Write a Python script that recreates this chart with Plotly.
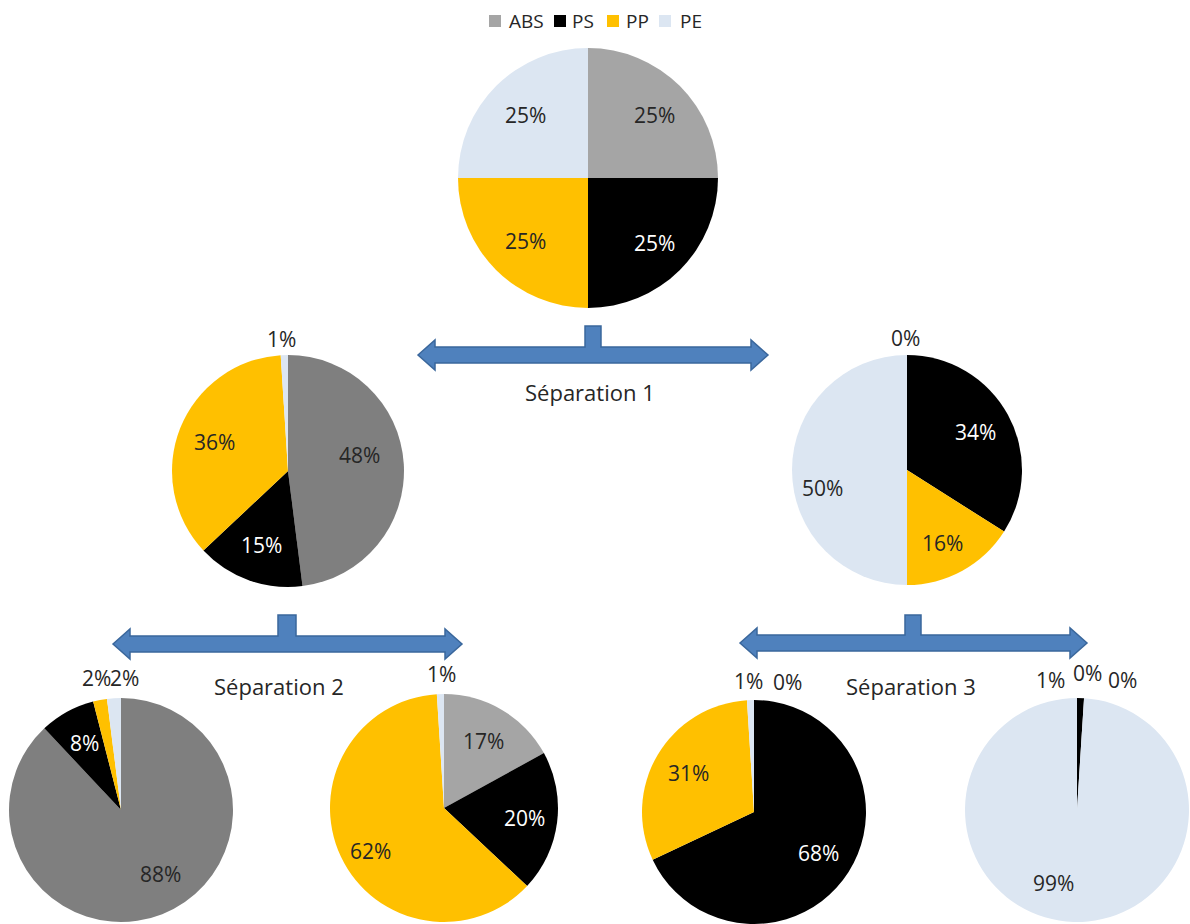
import math
import plotly.graph_objects as go

W, H = 1190, 924

# Composition (%) of each stream: ABS, PS, PP, PE
materials = ["ABS", "PS", "PP", "PE"]
feed = [25, 25, 25, 25]
sep1_left = [48, 15, 36, 1]
sep1_right = [0, 34, 16, 50]
sep2_left = [88, 8, 2, 2]
sep2_right = [17, 20, 62, 1]
sep3_left = [0, 68, 31, 1]
sep3_right = [0, 1, 0, 99]
separation_labels = ["Séparation 1", "Séparation 2", "Séparation 3"]

ABS_LIGHT = "#a5a5a5"
ABS_DARK = "#7f7f7f"
PS_COL = "#000000"
PP_COL = "#ffc000"
PE_COL = "#dce6f2"
TEXT = "#262626"
FONT = "Open Sans"


def px(x):
    return x / W


def py(y):
    return 1 - y / H


def text(x, y, s, size, color=TEXT, xanchor="center"):
    return dict(x=px(x), y=py(y), xref="paper", yref="paper",
                xanchor=xanchor, yanchor="middle", text=s, showarrow=False,
                font=dict(family=FONT, size=size, color=color))


# values, centre x, centre y, radius, ABS colour,
# small labels placed above the pie, nudges for inside labels
pies = [
    (feed, 588, 178, 130, ABS_LIGHT, {}, {0: (4, 0), 1: (4, 2)}),
    (sep1_left, 288, 471, 116, ABS_DARK, {3: (-7, -132)}, {0: (-7, -11)}),
    (sep1_right, 907, 470, 115, ABS_LIGHT, {0: (-2, -132)}, {3: (-6, 18), 2: (-2, 4)}),
    (sep2_left, 121, 810, 112, ABS_DARK, {2: (-25, -132), 3: (3, -132)}, {0: (11, -7)}),
    (sep2_right, 444, 808, 114, ABS_LIGHT, {3: (-3, -134)}, {2: (-3, 10), 1: (4, 0)}),
    (sep3_left, 754, 812, 112, ABS_LIGHT, {3: (-6, -131), 0: (33, -130)}, {}),
    (sep3_right, 1077, 810, 112, ABS_LIGHT,
     {1: (-27, -130), 0: (10, -137), 2: (45, -130)}, {3: (-21, -3)}),
]

fig = go.Figure()
annotations = []

for values, cx, cy, r, abs_col, outside, nudge in pies:
    colors = [abs_col, PS_COL, PP_COL, PE_COL]
    fig.add_trace(go.Pie(
        labels=materials,
        values=values,
        sort=False,
        direction="clockwise",
        rotation=0,
        marker=dict(colors=colors, line=dict(width=0)),
        textinfo="none",
        hoverinfo="label+percent",
        showlegend=False,
        domain=dict(x=[px(cx - r), px(cx + r)], y=[py(cy + r), py(cy - r)]),
    ))
    total = sum(values)
    start = 0.0
    for i, v in enumerate(values):
        frac = v / total
        mid = (start + frac / 2) * 2 * math.pi
        start += frac
        label = f"{v:.0f}%"
        if i in outside:
            dx, dy = outside[i]
            annotations.append(text(cx + dx, cy + dy, label, 21))
        elif v > 0:
            rr = 0.68 * r
            ndx, ndy = nudge.get(i, (0, 0))
            tx = cx + rr * math.sin(mid) + ndx
            ty = cy - rr * math.cos(mid) + ndy
            col = "#ffffff" if i == 1 else TEXT
            annotations.append(text(tx, ty, label, 21, col))

# Double-headed separation arrows with a stem on top
arrows = [
    (418, 768, 355, 585, 601, 326, 590, 392),
    (113, 462, 644, 278, 296, 615, 279, 686),
    (740, 1087, 643, 905, 921, 615, 911, 686),
]
shapes = []
for (xl, xr, yc, s0, s1, stop, lx, ly), name in zip(arrows, separation_labels):
    half_bar = 8
    half_head = 15
    head = 17
    pts = [
        (xl, yc),
        (xl + head, yc - half_head),
        (xl + head, yc - half_bar),
        (s0, yc - half_bar),
        (s0, stop),
        (s1, stop),
        (s1, yc - half_bar),
        (xr - head, yc - half_bar),
        (xr - head, yc - half_head),
        (xr, yc),
        (xr - head, yc + half_head),
        (xr - head, yc + half_bar),
        (xl + head, yc + half_bar),
        (xl + head, yc + half_head),
    ]
    path = "M " + " L ".join(f"{px(x):.5f},{py(y):.5f}" for x, y in pts) + " Z"
    shapes.append(dict(type="path", path=path, xref="paper", yref="paper",
                       fillcolor="#4f81bd", line=dict(color="#3a679c", width=1.5)))
    annotations.append(text(lx, ly, name, 22))

# Legend drawn as coloured squares and labels
legend_items = [
    ("ABS", ABS_LIGHT, 489, 507),
    ("PS", PS_COL, 554, 570),
    ("PP", PP_COL, 607, 624),
    ("PE", PE_COL, 659, 678),
]
for name, col, sq_x, tx in legend_items:
    shapes.append(dict(type="rect", xref="paper", yref="paper",
                       x0=px(sq_x), x1=px(sq_x + 12), y0=py(27), y1=py(15),
                       fillcolor=col, line=dict(width=0)))
    annotations.append(text(tx, 21, name, 19, xanchor="left"))

fig.update_layout(
    width=W, height=H,
    margin=dict(l=0, r=0, t=0, b=0),
    paper_bgcolor="#ffffff",
    plot_bgcolor="#ffffff",
    shapes=shapes,
    annotations=annotations,
)

fig.write_html("out.html")
